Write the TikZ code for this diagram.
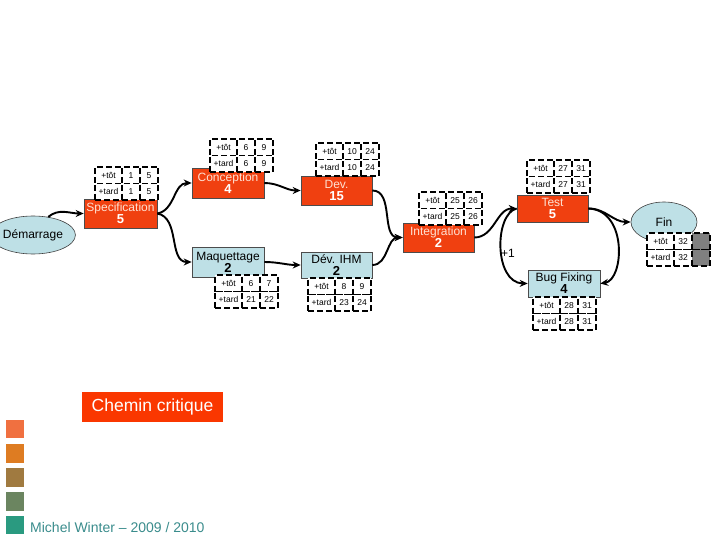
\documentclass[tikz,border=0pt]{standalone}
\usepackage{fontspec}
\setmainfont{Liberation Sans}
\usetikzlibrary{arrows.meta,shapes.geometric}
\definecolor{critred}{RGB}{240,64,16}
\definecolor{lblue}{RGB}{190,224,230}
\definecolor{chemred}{RGB}{250,55,0}
\definecolor{sqA}{RGB}{240,112,64}
\definecolor{sqB}{RGB}{222,124,34}
\definecolor{sqC}{RGB}{160,122,64}
\definecolor{sqD}{RGB}{107,133,96}
\definecolor{sqE}{RGB}{42,154,128}
\definecolor{foot}{RGB}{58,140,140}
\definecolor{txtpink}{RGB}{255,225,210}
\definecolor{cellgray}{RGB}{128,128,128}
\tikzset{
 task/.style={rectangle, draw=black!70, line width=0.6pt, inner sep=0pt, align=center, font=\fontsize{12}{14}\selectfont},
 crit/.style={task, fill=critred, text=txtpink},
 norm/.style={task, fill=lblue, text=black},
 evt/.style={ellipse, draw=black!75, line width=0.6pt, fill=lblue, inner sep=0pt, font=\fontsize{12}{13}\selectfont},
 cell/.style={rectangle, draw=black, line width=1.8pt, dash pattern=on 6pt off 3pt, fill=white, inner sep=0pt, outer sep=0pt, minimum height=16.5pt, font=\fontsize{8.5}{9}\selectfont},
 lab/.style={cell, minimum width=27pt},
 num/.style={cell, minimum width=18pt},
 conn/.style={line width=1.9pt, -{Stealth[length=8pt,width=7pt]}},
 sq/.style={rectangle, minimum size=18.5pt, inner sep=0pt},
}
\newcommand\ptable[7]{%
 \node[lab, anchor=north west] (#1-l1) at (#2,#3) {+tôt};
 \node[num, anchor=north west] (#1-a) at (#1-l1.north east) {#4};
 \node[num, anchor=north west] (#1-b) at (#1-a.north east) {#5};
 \node[lab, anchor=north west] (#1-l2) at (#1-l1.south west) {+tard};
 \node[num, anchor=north west] (#1-c) at (#1-l2.north east) {#6};
 \node[num, anchor=north west] (#1-d) at (#1-c.north east) {#7};
}
\begin{document}
\begin{tikzpicture}[x=1pt,y=-1pt]
\useasboundingbox (0,0) rectangle (720,540);
% events
\node[evt, minimum width=66pt, minimum height=38pt] (dem) at (33,235) {Démarrage};
\node[evt, minimum width=66pt, minimum height=40pt] (fin) at (664,222) {Fin};
% tasks
\node[crit, minimum width=73pt, minimum height=29pt] (spec) at (120.5,213.5) {Specification\\[-2pt]\textcolor{white}{\bfseries\fontsize{13}{13}\selectfont 5}};
\node[crit, minimum width=72pt, minimum height=30pt] (conc) at (228,183) {Conception\\[-2pt]\textcolor{white}{\bfseries\fontsize{13}{13}\selectfont 4}};
\node[norm, minimum width=72pt, minimum height=30pt] (maq) at (228,262) {Maquettage\\[-2pt]{\bfseries\fontsize{13}{13}\selectfont 2}};
\node[crit, minimum width=71pt, minimum height=29pt] (dev) at (336.5,190.5) {Dev.\\[-2pt]\textcolor{white}{\bfseries\fontsize{13}{13}\selectfont 15}};
\node[norm, minimum width=71pt, minimum height=26pt] (ihm) at (336.5,265) {Dév. IHM\\[-2pt]{\bfseries\fontsize{13}{13}\selectfont 2}};
\node[crit, minimum width=71pt, minimum height=29pt] (integ) at (438.5,237.5) {Integration\\[-2pt]\textcolor{white}{\bfseries\fontsize{13}{13}\selectfont 2}};
\node[crit, minimum width=71pt, minimum height=27pt] (test) at (552.5,208.5) {Test\\[-2pt]\textcolor{white}{\bfseries\fontsize{13}{13}\selectfont 5}};
\node[norm, minimum width=72pt, minimum height=27pt] (bug) at (564,283.5) {Bug Fixing\\[-2pt]{\bfseries\fontsize{13}{13}\selectfont 4}};
% connectors
\draw[conn] (dem.50) to[out=40,in=180] (spec.west);
\draw[conn] (spec.east) to[out=10,in=180] (conc.west);
\draw[conn] (spec.east) to[out=-10,in=180] (maq.west);
\draw[conn] (conc.east) to[out=0,in=180] (dev.west);
\draw[conn] (maq.east) to[out=0,in=180] (ihm.west);
\draw[conn] (dev.east) to[out=0,in=180] (integ.west);
\draw[conn] (ihm.east) to[out=0,in=180] (integ.west);
\draw[conn] (integ.east) to[out=0,in=180] (test.west);
\draw[conn] (test.west) .. controls (494,214) and (494,283) .. (bug.west);
\draw[conn] (test.east) to[out=0,in=180] (fin.west);
\draw[conn] (test.east) .. controls (628,210) and (624,280) .. (bug.east);
\node[font=\fontsize{12}{13}\selectfont] (plus) at (508,253) {+1};
% tables
\ptable{tspec}{95}{167}{1}{5}{1}{5}
\ptable{tconc}{210}{139}{6}{9}{6}{9}
\ptable{tmaq}{215}{275}{6}{7}{21}{22}
\ptable{tdev}{316}{143}{10}{24}{10}{24}
\ptable{tihm}{308}{278}{8}{9}{23}{24}
\ptable{tinteg}{419}{192}{25}{26}{25}{26}
\ptable{ttest}{527}{160}{27}{31}{27}{31}
\ptable{tbug}{533}{297}{28}{31}{28}{31}
\node[lab, anchor=north west] (tfin-l1) at (647,233) {+tôt};
\node[num, anchor=north west] (tfin-a) at (tfin-l1.north east) {32};
\node[num, anchor=north west, fill=cellgray] (tfin-b) at (tfin-a.north east) {};
\node[lab, anchor=north west] (tfin-l2) at (tfin-l1.south west) {+tard};
\node[num, anchor=north west] (tfin-c) at (tfin-l2.north east) {32};
\node[num, anchor=north west, fill=cellgray] (tfin-d) at (tfin-c.north east) {};
% legend
\node[fill=chemred, text=white, minimum width=141pt, minimum height=30pt, inner sep=0pt, font=\fontsize{17.5}{19}\selectfont] (chem) at (152.5,407) {Chemin critique};
\node[sq, fill=sqA] (s1) at (15,429) {};
\node[sq, fill=sqB] (s2) at (15,453.5) {};
\node[sq, fill=sqC] (s3) at (15,477.5) {};
\node[sq, fill=sqD] (s4) at (15,501.5) {};
\node[sq, fill=sqE] (s5) at (15,525) {};
\node[anchor=west, text=foot, inner sep=0pt, font=\fontsize{14}{15}\selectfont] (foot) at (30,527) {Michel Winter – 2009 / 2010};
\end{tikzpicture}
\end{document}
